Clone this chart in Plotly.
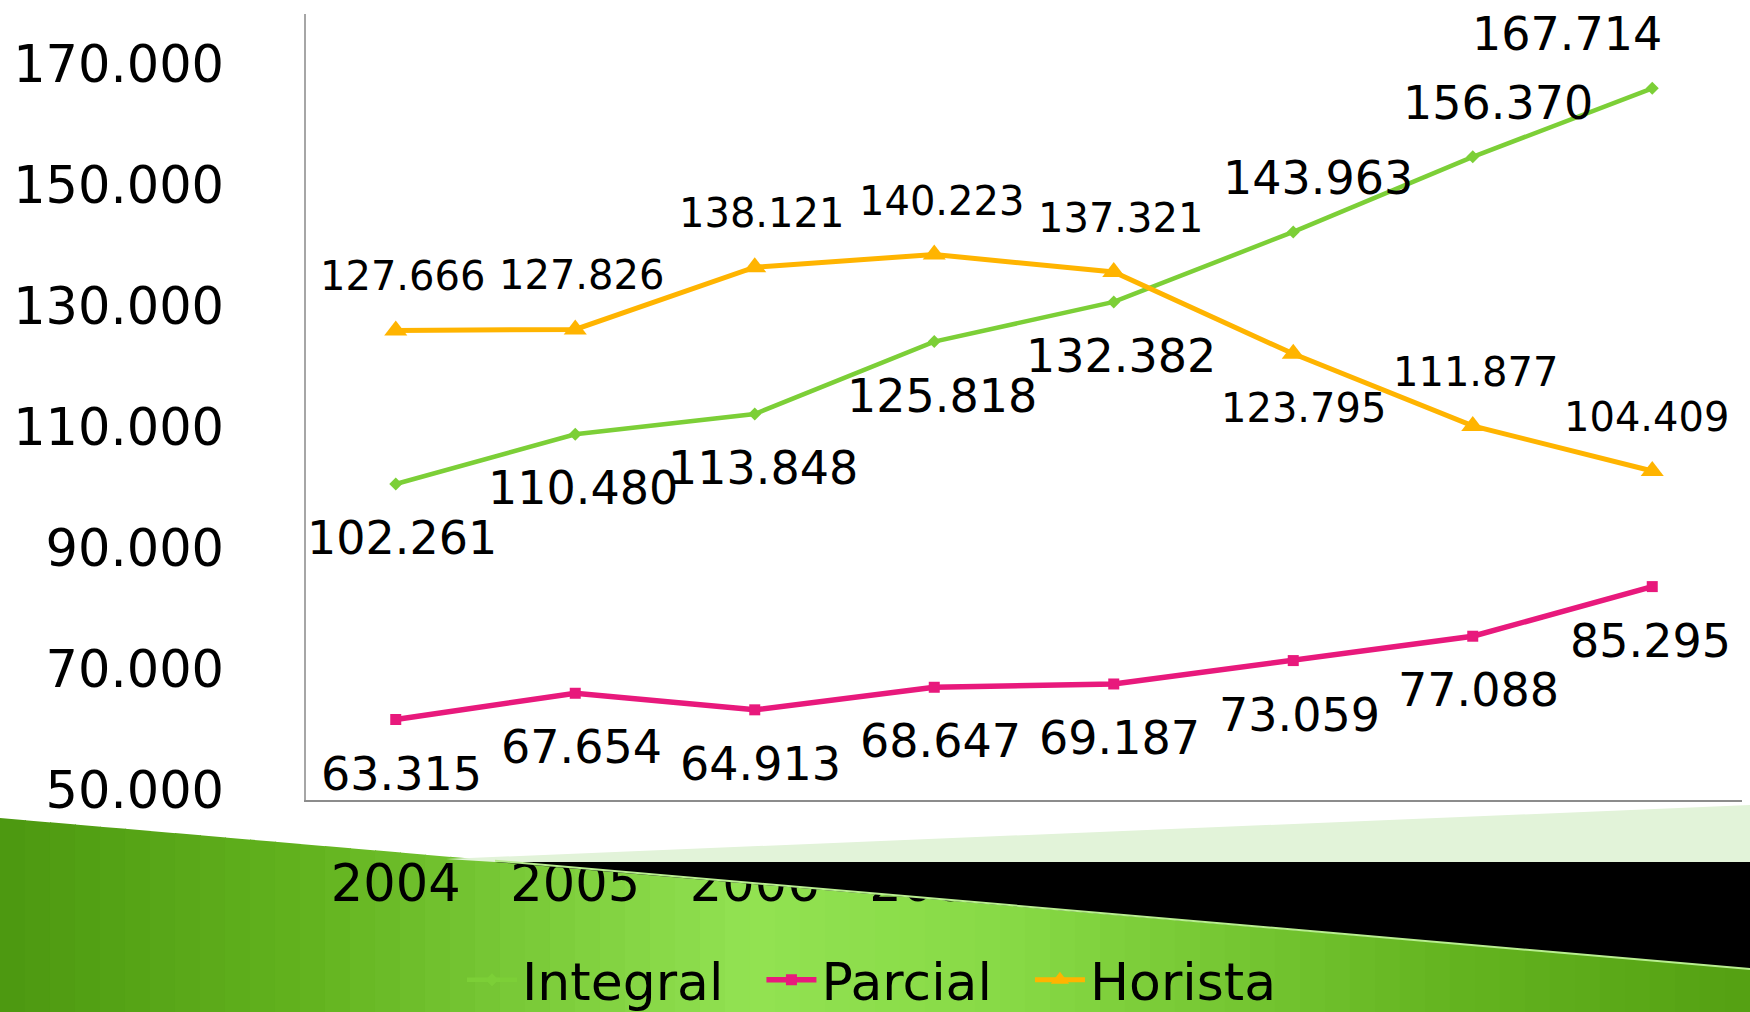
import plotly.graph_objects as go

years = ["2004", "2005", "2006", "2007", "2008", "2009", "2010", "2011"]
integral = [102261, 110480, 113848, 125818, 132382, 143963, 156370, 167714]
parcial = [63315, 67654, 64913, 68647, 69187, 73059, 77088, 85295]
horista = [127666, 127826, 138121, 140223, 137321, 123795, 111877, 104409]
y_ticks = [50000, 70000, 90000, 110000, 130000, 150000, 170000]

# label placement (1 = above point, -1 = below point) and horizontal nudges (px)
integral_pos = [-1, -1, -1, -1, -1, 1, 1, 1]
parcial_pos = [-1] * 8
horista_pos = [1, 1, 1, 1, 1, -1, 1, 1]
integral_dx = [6, 8, 8, 8, 7, 25, 25, -85]
parcial_dx = [6, 6, 6, 6, 6, 6, 6, -2]
horista_dx = [7, 6, 7, 7, 7, 10, 3, -6]

C_INT = "#7ccf37"
C_PAR = "#e8197c"
C_HOR = "#ffb400"

W_FIG, H_FIG = 1750, 1012
L, R, T, B = 306, 1742, 14, 800
PW, PH = R - L, B - T


def px(x):
    return (x - L) / PW


def py(y):
    return (B - y) / PH


def fmt(v):
    return f"{v:,}".replace(",", ".")


NB = "\u00a0"
fig = go.Figure()
series = [
    ("Integral" + NB * 2, integral, C_INT, dict(symbol="diamond", size=10), 4.5, integral_pos, integral_dx, 46),
    ("Parcial" + NB * 2, parcial, C_PAR, dict(symbol="square", size=11), 5.5, parcial_pos, parcial_dx, 46),
    ("Horista", horista, C_HOR, dict(symbol="triangle-up", size=20), 5, horista_pos, horista_dx, 40),
]
annotations = []
for name, vals, col, mk, lw, pos, dx, fs in series:
    fig.add_trace(go.Scatter(
        x=years, y=vals, name=name, mode="lines+markers",
        line=dict(color=col, width=lw),
        marker=dict(color=col, **mk),
    ))
    for i, (v, p, d) in enumerate(zip(vals, pos, dx)):
        annotations.append(dict(
            x=i, y=v, xref="x", yref="y", text=fmt(v), showarrow=False,
            xshift=d, yshift=54 * p,
            font=dict(size=fs, color="#000000", family="DejaVu Sans"),
        ))

# ---- slide decoration (background band) ----
shapes = []


def edge(x):
    return 818 + x * (969 - 818) / 1750


def lerp_col(stops, x):
    for (x0, c0), (x1, c1) in zip(stops, stops[1:]):
        if x0 <= x <= x1:
            t = (x - x0) / (x1 - x0)
            return "rgb(%d,%d,%d)" % tuple(round(a + (b - a) * t) for a, b in zip(c0, c1))
    return "rgb(%d,%d,%d)" % stops[-1][1]


stops = [(0, (76, 152, 16)), (300, (98, 178, 30)), (750, (146, 226, 82)),
         (1000, (136, 218, 70)), (1450, (100, 180, 32)), (1750, (84, 160, 18))]
step = 25
for x0 in range(0, W_FIG, step):
    x1 = x0 + step + 1
    col = lerp_col(stops, x0 + step / 2)
    path = "M %f,%f L %f,%f L %f,%f L %f,%f Z" % (
        px(x0), py(edge(x0)), px(x1), py(edge(x1)), px(x1), py(1015), px(x0), py(1015))
    shapes.append(dict(type="path", path=path, xref="paper", yref="paper",
                       fillcolor=col, line=dict(width=0), layer="below"))

# pale green triangle
shapes.append(dict(type="path", xref="paper", yref="paper", layer="below",
                   path="M %f,%f L %f,%f L %f,%f L %f,%f Z" % (
                       px(446), py(859), px(1752), py(805), px(1752), py(862), px(495), py(862)),
                   fillcolor="#e2f3d9", line=dict(width=0)))
# black wedge
shapes.append(dict(type="path", xref="paper", yref="paper", layer="above",
                   path="M %f,%f L %f,%f L %f,%f Z" % (
                       px(495), py(862), px(1752), py(862), px(1752), py(edge(1752))),
                   fillcolor="#000000", line=dict(width=0)))
# highlight along band edge
shapes.append(dict(type="line", xref="paper", yref="paper", layer="above",
                   x0=px(495), y0=py(edge(495)), x1=px(1752), y1=py(edge(1752)),
                   line=dict(color="#b9ee90", width=2)))

fig.update_layout(
    width=W_FIG, height=H_FIG,
    margin=dict(l=L, r=W_FIG - R, t=T, b=H_FIG - B, pad=0, autoexpand=False),
    paper_bgcolor="#ffffff", plot_bgcolor="#ffffff",
    separators=",.",
    font=dict(family="DejaVu Sans", color="#000000", size=50),
    showlegend=True,
    legend=dict(orientation="h", x=px(462), xanchor="left", y=py(980), yanchor="middle",
                font=dict(size=52, color="#000000"), bgcolor="rgba(0,0,0,0)",
                itemwidth=50, tracegroupgap=0),
    xaxis=dict(type="category", range=[-0.5, 7.5], showgrid=False, zeroline=False,
               showline=True, linecolor="#8c8c8c", linewidth=2, ticks="",
               tickfont=dict(size=51, color="#000000"), ticklabelstandoff=38),
    yaxis=dict(range=[50000, 180000], tickvals=y_ticks, tickformat=",d",
               showgrid=False, zeroline=False, showline=True, linecolor="#a6a6a6",
               linewidth=1.5, ticks="", tickfont=dict(size=51, color="#000000"),
               ticklabelstandoff=70, ticklabelshift=-10),
    annotations=annotations,
    shapes=shapes,
)

fig.write_html("out.html", config={"displayModeBar": False},
               post_script="document.body.style.margin='0px';document.body.style.overflow='hidden';")
